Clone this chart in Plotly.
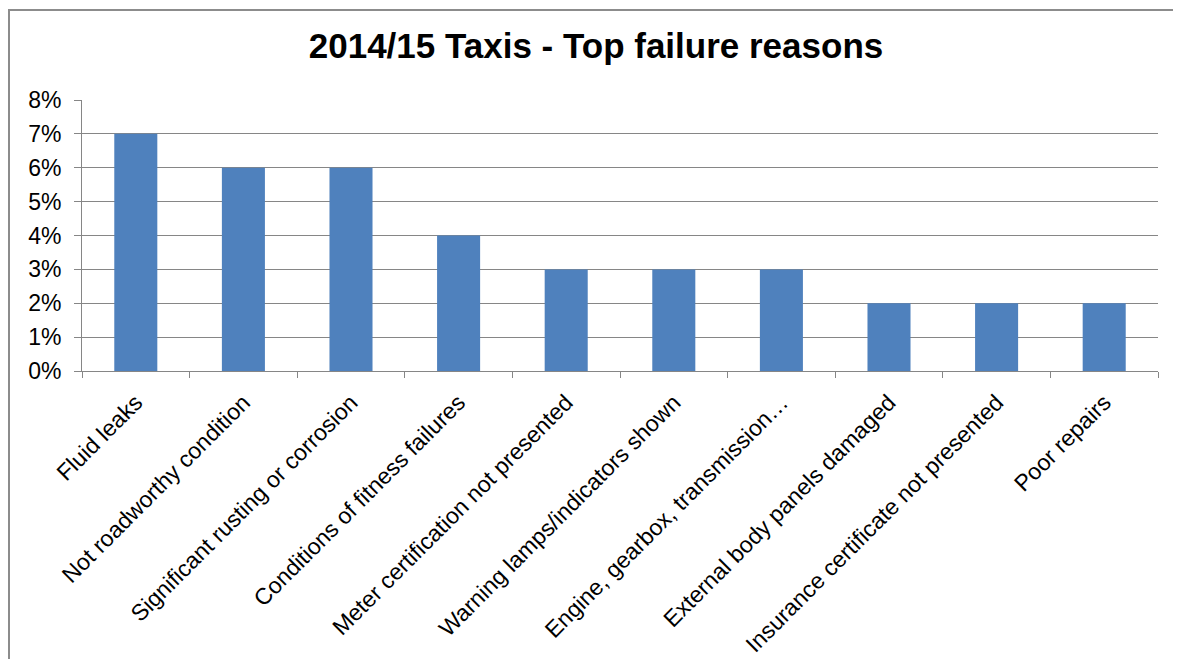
import plotly.graph_objects as go

categories = [
    "Fluid leaks",
    "Not roadworthy condition",
    "Significant rusting or corrosion",
    "Conditions of fitness failures",
    "Meter certification not presented",
    "Warning lamps/indicators shown",
    "Engine, gearbox, transmission…",
    "External body panels damaged",
    "Insurance certificate not presented",
    "Poor repairs",
]
values = [0.07, 0.06, 0.06, 0.04, 0.03, 0.03, 0.03, 0.02, 0.02, 0.02]
title_text = "2014/15 Taxis - Top failure reasons"

# page has an 8px body margin; work in figure coordinates
OFF = 8
W, H = 1181, 659
ML = 82 - OFF
MT = 100 - OFF
MR = W - (1158 - OFF)
MB = H - (371 - OFF)
PW, PH = W - ML - MR, H - MT - MB


def px_x(x):
    return (x - OFF - ML) / PW


def px_y(y):
    return 1 - (y - OFF - MT) / PH


FONT = "Liberation Sans, Arial, sans-serif"
GRID = "#868686"

fig = go.Figure(
    go.Bar(x=categories, y=values, marker=dict(color="#4F81BD", line=dict(width=0)))
)

fig.update_layout(
    width=W, height=H,
    margin=dict(l=ML, r=MR, t=MT, b=MB, autoexpand=False),
    paper_bgcolor="white", plot_bgcolor="white",
    bargap=0.6,
    showlegend=False,
    font=dict(family=FONT, color="black", size=22),
    title=dict(
        text="<b>" + title_text + "</b>",
        font=dict(family=FONT, size=35, color="black"),
        xref="paper", x=px_x(596), xanchor="center",
        yref="container", y=1 - (46 - OFF) / H, yanchor="middle",
    ),
    xaxis=dict(
        type="category",
        tickangle=-45,
        showline=True, linecolor=GRID, linewidth=1,
        ticks="outside", ticklen=6, tickcolor=GRID, tickson="boundaries",
        showgrid=False,
        ticklabelstandoff=8,
        tickfont=dict(family=FONT, size=23, color="black"),
        range=[-0.5, len(categories) - 0.5],
    ),
    yaxis=dict(
        range=[0, 0.08], dtick=0.01, tickformat=".0%",
        showline=True, linecolor=GRID, linewidth=1,
        ticks="outside", ticklen=7, tickcolor=GRID,
        showgrid=True, gridcolor=GRID, gridwidth=1,
        zeroline=False,
        ticklabelstandoff=8,
        tickfont=dict(family=FONT, size=23, color="black"),
    ),
    shapes=[
        dict(type="line", xref="paper", yref="paper",
             x0=px_x(9), x1=px_x(9), y0=px_y(9), y1=px_y(H + 30),
             line=dict(color="#8C8C8C", width=2)),
        dict(type="line", xref="paper", yref="paper",
             x0=px_x(8), x1=px_x(W + 30), y0=px_y(10), y1=px_y(10),
             line=dict(color="#8C8C8C", width=2)),
    ],
)

fig.write_html("out.html")
